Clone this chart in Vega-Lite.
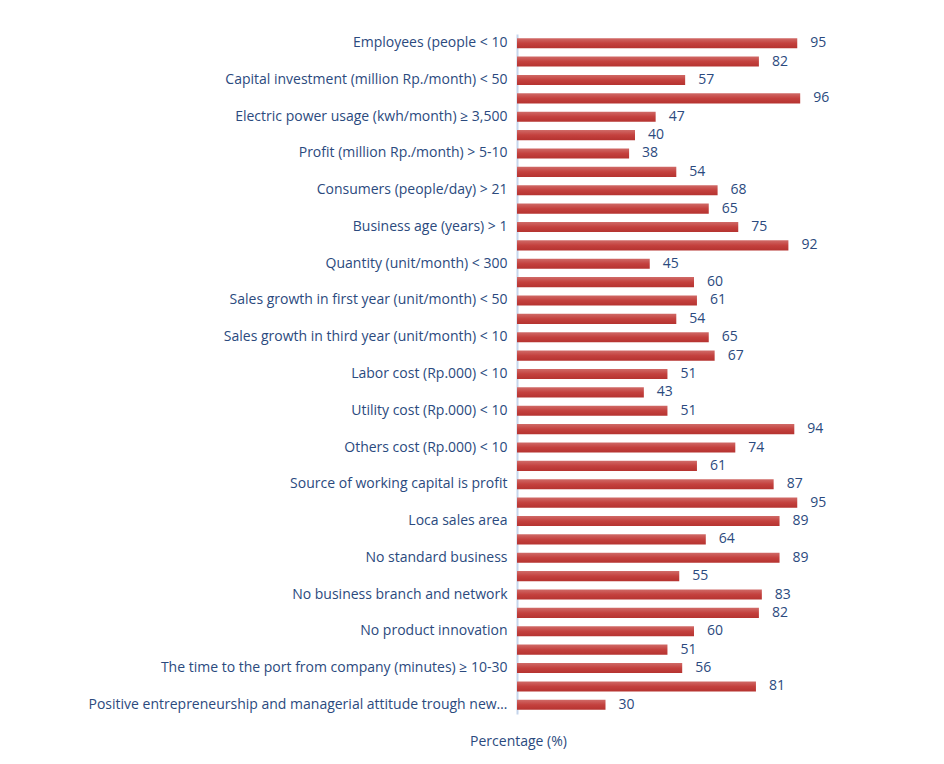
{
  "$schema": "https://vega.github.io/schema/vega-lite/v6.json",
  "autosize": {"type": "none"},
  "width": 295,
  "height": 680,
  "padding": {"left": 517, "top": 34, "right": 132, "bottom": 50},
  "background": "white",
  "config": {"view": {"stroke": null}, "font": "Open Sans"},
  "data": {"values": [
    {"label": "Employees (people < 10", "value": 95},
    {"label": "_2", "value": 82},
    {"label": "Capital investment (million Rp./month) < 50", "value": 57},
    {"label": "_4", "value": 96},
    {"label": "Electric power usage (kwh/month) ≥ 3,500", "value": 47},
    {"label": "_6", "value": 40},
    {"label": "Profit (million Rp./month) > 5-10", "value": 38},
    {"label": "_8", "value": 54},
    {"label": "Consumers (people/day) > 21", "value": 68},
    {"label": "_10", "value": 65},
    {"label": "Business age (years) > 1", "value": 75},
    {"label": "_12", "value": 92},
    {"label": "Quantity (unit/month) < 300", "value": 45},
    {"label": "_14", "value": 60},
    {"label": "Sales growth in first year (unit/month) < 50", "value": 61},
    {"label": "_16", "value": 54},
    {"label": "Sales growth in third year (unit/month) < 10", "value": 65},
    {"label": "_18", "value": 67},
    {"label": "Labor cost (Rp.000) < 10", "value": 51},
    {"label": "_20", "value": 43},
    {"label": "Utility cost (Rp.000) < 10", "value": 51},
    {"label": "_22", "value": 94},
    {"label": "Others cost (Rp.000) < 10", "value": 74},
    {"label": "_24", "value": 61},
    {"label": "Source of working capital is profit", "value": 87},
    {"label": "_26", "value": 95},
    {"label": "Loca sales area", "value": 89},
    {"label": "_28", "value": 64},
    {"label": "No standard business", "value": 89},
    {"label": "_30", "value": 55},
    {"label": "No business branch and network", "value": 83},
    {"label": "_32", "value": 82},
    {"label": "No product innovation", "value": 60},
    {"label": "_34", "value": 51},
    {"label": "The time to the port from company (minutes) ≥ 10-30", "value": 56},
    {"label": "_36", "value": 81},
    {"label": "Positive entrepreneurship and managerial attitude trough new…", "value": 30}
  ]},
  "encoding": {
    "y": {
      "field": "label", "type": "nominal", "sort": null,
      "scale": {"paddingInner": 0.45, "paddingOuter": 0.225},
      "axis": {
        "title": null, "ticks": false, "labelPadding": 10, "labelLimit": 500,
        "labelExpr": "indexof(datum.label, '_') == 0 ? '' : datum.label",
        "labelColor": "#2b4a7e", "labelFontSize": 14, "labelFont": "Open Sans",
        "domainColor": "#c5d5ec", "domainWidth": 2
      }
    },
    "x": {
      "field": "value", "type": "quantitative",
      "scale": {"domain": [0, 100]},
      "axis": {
        "title": "Percentage (%)", "labels": false, "ticks": false, "domain": false, "grid": false,
        "titleX": 1, "titleY": 27, "titleAlign": "center", "titleBaseline": "middle",
        "titleColor": "#2b4a7e", "titleFontSize": 14, "titleFontWeight": "normal", "titleFont": "Open Sans"
      }
    }
  },
  "layer": [
    {
      "mark": {
        "type": "bar",
        "color": {"gradient": "linear", "x1": 0, "y1": 0, "x2": 0, "y2": 1,
          "stops": [{"offset": 0, "color": "#d06a67"}, {"offset": 0.5, "color": "#c4413e"}, {"offset": 1, "color": "#b53330"}]}
      }
    },
    {
      "mark": {"type": "text", "align": "left", "dx": 13, "fontSize": 14, "color": "#2b4a7e", "font": "Open Sans"},
      "encoding": {"text": {"field": "value", "type": "quantitative"}}
    }
  ]
}
